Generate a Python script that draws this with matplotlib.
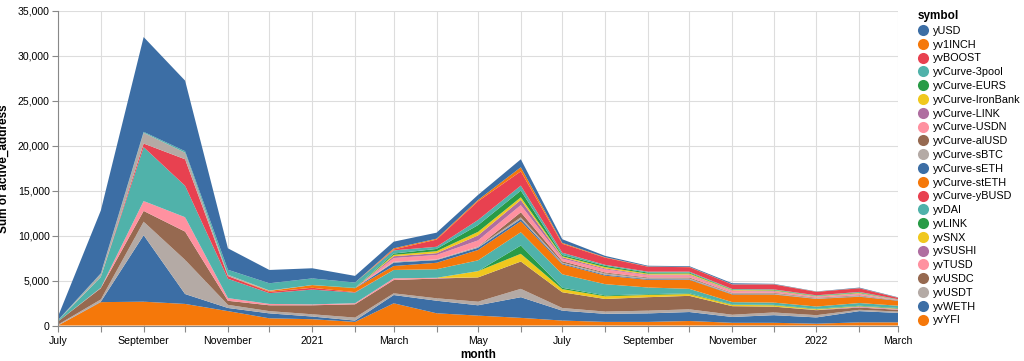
import matplotlib
matplotlib.use("Agg")
import matplotlib.pyplot as plt
import matplotlib.dates as mdates
from matplotlib.lines import Line2D
from matplotlib.ticker import FuncFormatter
import numpy as np
import pandas as pd

plt.rcParams['font.family'] = ['Liberation Sans', 'DejaVu Sans']

months = pd.date_range('2020-07-01', '2022-03-01', freq='MS')

# bottom -> top stacking order
yvYFI = [0, 2600, 2650, 2400, 1600, 800, 700, 400, 2470, 1360, 1100, 850, 550, 400, 400, 500, 300, 300, 200, 350, 350]
yvWETH = [0, 50, 7400, 1100, 350, 550, 300, 150, 920, 1400, 1150, 2300, 1100, 900, 950, 1000, 650, 850, 700, 1250, 1050]
yvUSDT = [100, 250, 1500, 3800, 350, 250, 250, 330, 190, 270, 400, 930, 300, 250, 300, 300, 250, 300, 250, 150, 150]
yvUSDC = [350, 1250, 1200, 3150, 450, 650, 1000, 1480, 1480, 2200, 2700, 3040, 1750, 1400, 1500, 1500, 950, 650, 550, 250, 200]
yvTUSD = [0, 50, 1100, 1600, 300, 150, 100, 120, 190, 60, 0, 0, 0, 0, 0, 0, 0, 0, 0, 50, 50]
yvSUSHI = [0, 0, 0, 0, 0, 0, 0, 0, 0, 0, 0, 0, 0, 0, 0, 0, 0, 0, 30, 50, 50]
yvSNX = [0, 0, 0, 0, 0, 0, 0, 0, 0, 20, 700, 860, 350, 300, 250, 200, 150, 150, 80, 50, 40]
yvLINK = [0, 0, 0, 0, 0, 0, 0, 0, 0, 0, 0, 920, 150, 100, 80, 80, 50, 50, 50, 50, 60]
yvDAI = [100, 1200, 6000, 3500, 2150, 1200, 1650, 1180, 930, 950, 1200, 1480, 1500, 1250, 750, 500, 250, 250, 250, 300, 250]
yvCurve_yBUSD = [0, 0, 400, 2950, 300, 150, 200, 50, 0, 0, 0, 0, 0, 0, 0, 0, 0, 0, 0, 0, 0]
yvCurve_stETH = [0, 0, 0, 0, 0, 100, 300, 440, 440, 720, 1150, 1220, 1100, 950, 850, 1000, 850, 900, 850, 700, 550]
yvCurve_sETH = [0, 0, 0, 0, 0, 0, 0, 0, 380, 300, 250, 240, 100, 100, 80, 60, 50, 40, 30, 40, 30]
yvCurve_sBTC = [0, 350, 1200, 730, 150, 50, 0, 0, 100, 70, 120, 200, 100, 150, 100, 100, 80, 80, 60, 60, 30]
yvCurve_alUSD = [0, 0, 0, 0, 0, 0, 0, 0, 0, 0, 0, 560, 150, 100, 80, 100, 60, 70, 50, 60, 20]
yvCurve_USDN = [0, 0, 0, 0, 0, 0, 0, 0, 410, 500, 700, 800, 300, 350, 250, 250, 200, 150, 100, 150, 30]
yvCurve_LINK = [0, 0, 0, 0, 0, 0, 0, 0, 200, 200, 550, 580, 150, 100, 80, 80, 60, 60, 40, 60, 20]
yvCurve_IronBank = [0, 0, 0, 0, 0, 0, 0, 0, 150, 220, 400, 290, 100, 150, 100, 120, 60, 60, 40, 60, 10]
yvCurve_EURS = [0, 0, 0, 0, 0, 0, 0, 50, 150, 250, 750, 740, 150, 150, 120, 100, 50, 60, 40, 60, 20]
yvCurve_3pool = [50, 50, 100, 170, 550, 800, 740, 580, 350, 240, 570, 560, 250, 100, 100, 100, 50, 50, 40, 50, 20]
yvBOOST = [0, 0, 0, 0, 0, 0, 0, 0, 100, 800, 2080, 1590, 1000, 800, 550, 500, 500, 550, 380, 400, 150]
yv1INCH = [0, 0, 0, 0, 0, 0, 0, 0, 130, 100, 150, 450, 100, 50, 30, 30, 20, 20, 20, 20, 20]
yUSD = [400, 7000, 10550, 7850, 2390, 1480, 1130, 740, 740, 670, 560, 890, 400, 150, 80, 80, 120, 50, 30, 60, 40]

symbols = ['yvYFI', 'yvWETH', 'yvUSDT', 'yvUSDC', 'yvTUSD', 'yvSUSHI', 'yvSNX', 'yvLINK', 'yvDAI',
           'yvCurve-yBUSD', 'yvCurve-stETH', 'yvCurve-sETH', 'yvCurve-sBTC', 'yvCurve-alUSD',
           'yvCurve-USDN', 'yvCurve-LINK', 'yvCurve-IronBank', 'yvCurve-EURS', 'yvCurve-3pool',
           'yvBOOST', 'yv1INCH', 'yUSD']
series = [yvYFI, yvWETH, yvUSDT, yvUSDC, yvTUSD, yvSUSHI, yvSNX, yvLINK, yvDAI,
          yvCurve_yBUSD, yvCurve_stETH, yvCurve_sETH, yvCurve_sBTC, yvCurve_alUSD,
          yvCurve_USDN, yvCurve_LINK, yvCurve_IronBank, yvCurve_EURS, yvCurve_3pool,
          yvBOOST, yv1INCH, yUSD]

palette = ['#3c6ea5', '#f5780a', '#e84150', '#50b2aa', '#289b46',
           '#f0c81e', '#af6ea0', '#ff91a0', '#966950', '#b4aaa5']
# colour follows alphabetical legend order
legend_order = symbols[::-1]
color_of = {s: palette[i % 10] for i, s in enumerate(legend_order)}
colors = [color_of[s] for s in symbols]

fig = plt.figure(figsize=(10.24, 3.61), dpi=100)
ax = fig.add_axes([58 / 1024, 1 - 325.5 / 361, 840 / 1024, 314.5 / 361])

ax.stackplot(months, np.array(series, dtype=float), colors=colors, linewidth=0)

ax.set_xlim(months[0], months[-1])
ax.set_ylim(0, 35000)
ax.set_yticks(np.arange(0, 35001, 5000))
ax.yaxis.set_major_formatter(FuncFormatter(lambda v, p: f"{int(v):,}"))

ax.xaxis.set_major_locator(mdates.MonthLocator())


def month_label(v, p):
    d = mdates.num2date(v)
    if d.month == 1:
        return str(d.year)
    if d.month % 2 == 1:
        return d.strftime('%B')
    return ''


ax.xaxis.set_major_formatter(FuncFormatter(month_label))

ax.set_axisbelow(True)
ax.grid(True, color='#dddddd', linewidth=0.8)
for s in ['top', 'right']:
    ax.spines[s].set_visible(False)
for s in ['left', 'bottom']:
    ax.spines[s].set_color('#888888')
    ax.spines[s].set_linewidth(0.8)
ax.tick_params(colors='#888888', labelcolor='black', labelsize=7.6, length=4, width=0.8)
ax.tick_params(axis='y', pad=2)

ax.set_xlabel('month', fontsize=8.5, fontweight='bold', labelpad=2)
ax.set_ylabel('Sum of active_address', fontsize=8.5, fontweight='bold')
ax.yaxis.set_label_coords(-48 / 840, 0.5)

handles = [Line2D([0], [0], marker='o', linestyle='', markersize=8,
                  markerfacecolor=color_of[s], markeredgewidth=0) for s in legend_order]
leg = fig.legend(handles, legend_order, loc='upper left', bbox_to_anchor=(918 / 1024, 1 - 10 / 361),
                 frameon=False, fontsize=7.8, title='symbol', title_fontproperties={'weight': 'bold', 'size': 8.5},
                 labelspacing=0.35, handletextpad=0.35, handlelength=1.0, borderpad=0, borderaxespad=0)
leg._legend_box.align = 'left'

fig.savefig('out.png', dpi=100)
